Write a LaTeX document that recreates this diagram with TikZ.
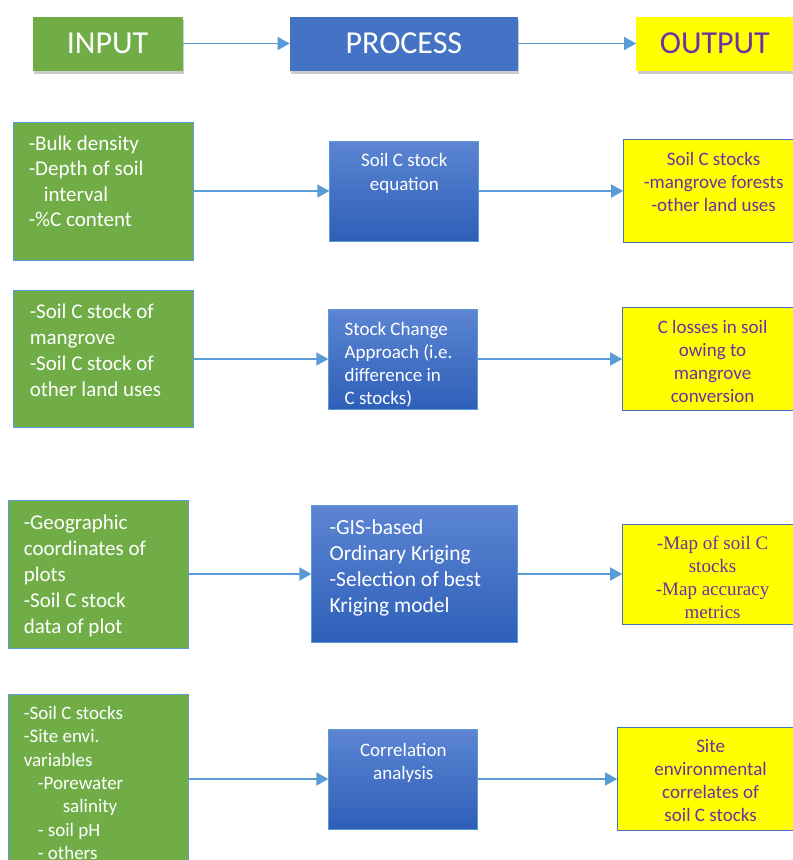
\documentclass[tikz,border=0pt]{standalone}
\usepackage{fontspec}
\setmainfont{Carlito}
\newfontfamily\serifcarte{Liberation Serif}
\usepackage{xcolor}
\usetikzlibrary{positioning, arrows.meta, shadows}
\definecolor{vertboite}{RGB}{112, 173, 71}
\definecolor{bleuboite}{RGB}{68, 114, 196}
\definecolor{bleuhaut}{RGB}{92, 133, 211}
\definecolor{bleubas}{RGB}{46, 95, 184}
\definecolor{bordbleu}{RGB}{91, 155, 213}
\definecolor{jauneboite}{RGB}{255, 255, 0}
\definecolor{mauvetexte}{RGB}{112, 48, 160}

\begin{document}
\begin{tikzpicture}[x=1pt, y=-1pt,
    >={Triangle[length=12pt, width=13pt]},
    entete/.style={rectangle, minimum height=54pt, inner sep=0pt,
                   font=\fontsize{32}{38}\selectfont,
                   drop shadow={shadow xshift=1.5pt, shadow yshift=-3pt, opacity=0.4}},
    vert/.style={rectangle, fill=vertboite, draw=bordbleu, line width=0.8pt,
                 minimum width=180pt, inner sep=0pt},
    bleu/.style={rectangle, top color=bleuhaut, bottom color=bleubas, draw=bordbleu,
                 line width=0.8pt, inner sep=0pt},
    jaune/.style={rectangle, fill=jauneboite, draw=bleuboite, line width=0.8pt, inner sep=0pt},
    blanc/.style={text=white, inner sep=0pt},
    mauve/.style={text=mauvetexte, inner sep=0pt, align=center, font=\fontsize{19}{23}\selectfont},
    fleche/.style={->, draw=bordbleu, line width=1.5pt}]
    \useasboundingbox (0,0) rectangle (793,860);
    % en-tete : input -> process -> output
    \node[entete, fill=vertboite, text=white, minimum width=150pt] (entree) at (107.5,43.5) {INPUT};
    \node[entete, fill=bleuboite, text=white, minimum width=228pt, right=107pt of entree] (traitement) {PROCESS};
    \node[entete, fill=jauneboite, text=mauvetexte, minimum width=157pt, right=118pt of traitement] (sortie) {OUTPUT};
    \draw[fleche] (entree) -- (traitement);
    \draw[fleche] (traitement) -- (sortie);
    % ligne 1 : equation du stock de C
    \node[vert, minimum height=138pt] (don1) at (103,191) {};
    \node[bleu, minimum width=149pt, minimum height=100pt, right=136pt of don1] (pro1) {};
    \node[jaune, minimum width=180pt, minimum height=103pt, right=144pt of pro1] (res1) {};
    \node[blanc, align=left, font=\fontsize{21}{25.5}\selectfont, below right=14pt and 16pt of don1.north west] (don1t) {-Bulk density\\-Depth of soil\\\hspace*{15pt}interval\\-\%C content};
    \node[blanc, align=center, font=\fontsize{19}{23.3}\selectfont, below=13pt of pro1.north] (pro1t) {Soil C stock\\equation};
    \node[mauve, below=13pt of res1.north] (res1t) {Soil C stocks\\-mangrove forests\\-other land uses};
    \draw[fleche] (don1) -- (pro1);
    \draw[fleche] (pro1) -- (res1);
    % ligne 2 : variation des stocks
    \node[vert, minimum height=137pt] (don2) at (103,359) {};
    \node[bleu, minimum width=149pt, minimum height=100pt, right=135pt of don2] (pro2) {};
    \node[jaune, minimum width=180pt, minimum height=103pt, right=144pt of pro2] (res2) {};
    \node[blanc, align=left, font=\fontsize{21}{25.8}\selectfont, below right=14pt and 17pt of don2.north west] (don2t) {-Soil C stock of\\mangrove\\-Soil C stock of\\other land uses};
    \node[blanc, align=left, font=\fontsize{19}{23}\selectfont, below right=13.5pt and 16pt of pro2.north west] (pro2t) {Stock Change\\Approach (i.e.\\difference in\\C stocks)};
    \node[mauve, below=13pt of res2.north] (res2t) {C losses in soil\\owing to\\mangrove\\conversion};
    \draw[fleche] (don2) -- (pro2);
    \draw[fleche] (pro2) -- (res2);
    % ligne 3 : krigeage
    \node[vert, minimum height=148pt] (don3) at (98,574) {};
    \node[bleu, minimum width=206pt, minimum height=137pt, right=123pt of don3] (pro3) {};
    \node[jaune, minimum width=180pt, minimum height=100pt, right=104pt of pro3] (res3) {};
    \node[blanc, align=left, font=\fontsize{21}{26}\selectfont, below right=15pt and 16pt of don3.north west] (don3t) {-Geographic\\coordinates of\\plots\\-Soil C stock\\data of plot};
    \node[blanc, align=left, font=\fontsize{21.5}{26}\selectfont, below right=14pt and 18pt of pro3.north west] (pro3t) {-GIS-based\\Ordinary Kriging\\-Selection of best\\Kriging model};
    \node[mauve, font=\serifcarte\fontsize{19}{23}\selectfont, below=12.5pt of res3.north] (res3t) {-Map of soil C\\stocks\\-Map accuracy\\metrics};
    \draw[fleche] (don3) -- (pro3);
    \draw[fleche] (pro3) -- (res3);
    % ligne 4 : correlation
    \node[vert, minimum height=170pt] (don4) at (98,779) {};
    \node[bleu, minimum width=149pt, minimum height=100pt, right=140pt of don4] (pro4) {};
    \node[jaune, minimum width=186pt, minimum height=103pt, right=139pt of pro4] (res4) {};
    \node[blanc, align=left, font=\fontsize{19}{23.3}\selectfont, below right=12.5pt and 16pt of don4.north west] (don4t) {-Soil C stocks\\-Site envi.\\variables\\\hspace*{14pt}-Porewater\\\hspace*{39pt}salinity\\\hspace*{14pt}- soil pH\\\hspace*{14pt}- others};
    \node[blanc, align=center, font=\fontsize{19}{23.3}\selectfont, below=14.5pt of pro4.north] (pro4t) {Correlation\\analysis};
    \node[mauve, below=12.5pt of res4.north] (res4t) {Site\\environmental\\correlates of\\soil C stocks};
    \draw[fleche] (don4) -- (pro4);
    \draw[fleche] (pro4) -- (res4);
\end{tikzpicture}
\end{document}
